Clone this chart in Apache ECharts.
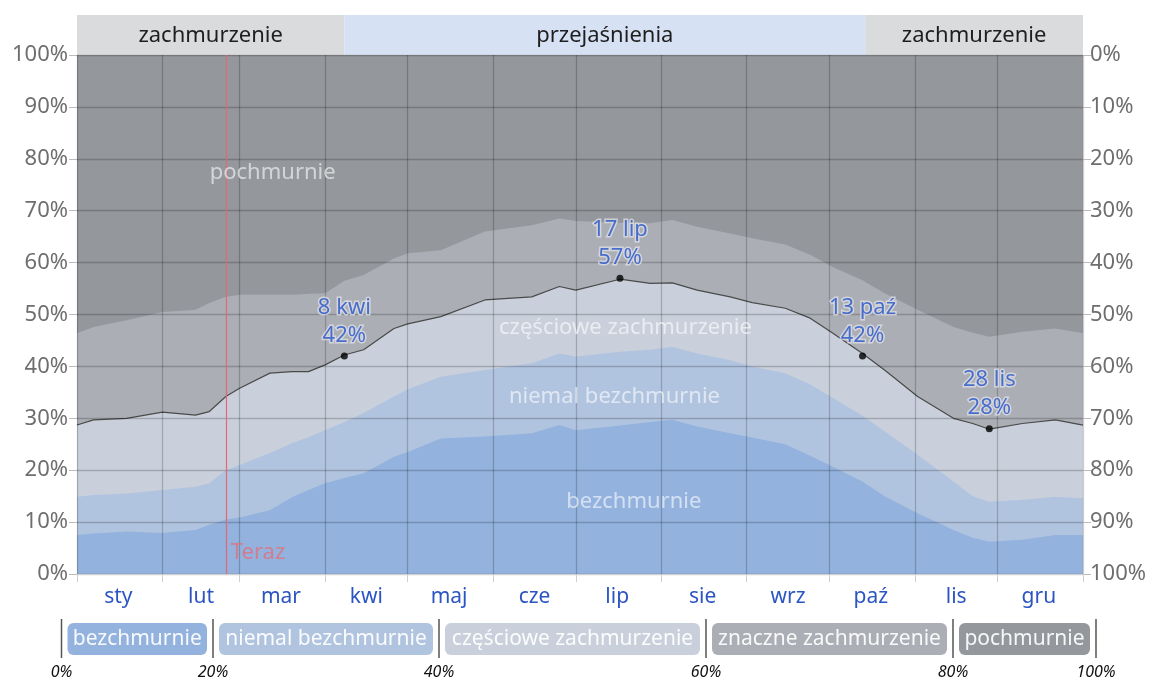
<!DOCTYPE html>
<html>
<head>
<meta charset="utf-8">
<script src="https://cdn.jsdelivr.net/npm/echarts@6/dist/echarts.min.js"></script>
<style>
  html, body { margin: 0; padding: 0; background: #fff; }
  #main { width: 1152px; height: 679px; }
</style>
</head>
<body>
<div id="main"></div>
<script>
// dni roku (0 = 1 sty), w których odczytano granice kategorii
const days = [0, 6, 18, 31, 43, 48, 54, 59, 70, 78, 84, 90, 97, 104, 115, 120, 132, 148, 165, 175, 181, 197, 208, 216, 225, 237, 245, 257, 266, 274, 285, 293, 305, 318, 325, 331, 343, 355, 365];

// skumulowane granice (%) - od dołu
const bezchmurnie = [7.5, 7.8, 8.2, 7.9, 8.5, 9.5, 10.5, 10.9, 12.3, 14.8, 16.2, 17.5, 18.5, 19.4, 22.6, 23.5, 26.1, 26.5, 27.1, 28.7, 27.7, 28.6, 29.3, 29.7, 28.4, 27.1, 26.3, 25.0, 22.8, 20.7, 17.8, 15.0, 11.7, 8.5, 7.0, 6.2, 6.6, 7.5, 7.5];
const niemalBezchmurnie = [14.9, 15.2, 15.5, 16.2, 16.8, 17.5, 20.0, 21.0, 23.3, 25.2, 26.4, 27.7, 29.3, 31.0, 34.2, 35.6, 38.0, 39.3, 40.6, 42.5, 41.9, 42.8, 43.2, 43.8, 42.5, 41.2, 40.0, 38.7, 36.5, 34.0, 30.5, 27.5, 23.0, 17.8, 15.0, 13.9, 14.3, 14.9, 14.6];
const czescioweZachmurzenie = [28.7, 29.7, 30.0, 31.2, 30.6, 31.3, 34.2, 35.8, 38.7, 39.0, 39.0, 40.3, 42.2, 43.2, 47.3, 48.2, 49.6, 52.8, 53.4, 55.4, 54.7, 56.8, 56.0, 56.1, 54.7, 53.4, 52.3, 51.2, 49.3, 46.5, 42.5, 39.3, 34.2, 30.0, 29.0, 27.9, 29.0, 29.7, 28.7];
const znaczneZachmurzenie = [46.4, 47.6, 48.9, 50.5, 50.9, 52.2, 53.4, 53.8, 53.8, 53.8, 54.0, 54.1, 56.5, 57.6, 60.8, 61.8, 62.4, 66.0, 67.2, 68.5, 68.0, 67.7, 67.6, 68.2, 66.9, 65.6, 64.7, 63.5, 61.5, 59.2, 56.6, 54.1, 50.9, 47.6, 46.5, 45.7, 46.7, 47.3, 46.4];
const pochmurnie = days.map(() => 100);

const monthNames = ['sty', 'lut', 'mar', 'kwi', 'maj', 'cze', 'lip', 'sie', 'wrz', 'paź', 'lis', 'gru'];
const monthStarts = [0, 31, 59, 90, 120, 151, 181, 212, 243, 273, 304, 334, 365];

// wyróżnione punkty
const markDays = [97, 197, 285, 331];
const markVals = [42, 57, 42, 28];
const markNames = ['8 kwi', '17 lip', '13 paź', '28 lis'];

const nowDay = 54;

const seasonNames = ['zachmurzenie', 'przejaśnienia', 'zachmurzenie'];
const seasonStart = [0, 97, 286];
const seasonEnd = [97, 286, 365];

const legendNames = ['bezchmurnie', 'niemal bezchmurnie', 'częściowe zachmurzenie', 'znaczne zachmurzenie', 'pochmurnie'];
const legendTicks = ['0%', '20%', '40%', '60%', '80%', '100%'];

const colors = {
    bez: '#93b2de',
    niemal: '#b1c4df',
    czesc: '#c9d0db',
    znaczne: '#abaeb4',
    poch: '#94979c',
};

const FONT = 'Noto Sans';
const dayCats = Array.from({length: 366}, (_, i) => String(i));
const monthMid = monthStarts.slice(0, 12).map((s, i) => s + Math.floor((monthStarts[i + 1] - s) / 2));

const pairs = vals => days.map((d, i) => [d, vals[i]]);

function areaSeries(name, vals, color, line) {
    return {
        name: name,
        type: 'line',
        xAxisIndex: 0,
        yAxisIndex: 0,
        data: pairs(vals),
        symbol: 'none',
        smooth: false,
        z: 2,
        lineStyle: line ? { color: '#4a4a4a', width: 1.2 } : { width: 0 },
        areaStyle: { color: color, opacity: 1 },
        silent: true,
    };
}

const chart = echarts.init(document.getElementById('main'));

// legenda na dole (opis kategorii)
const sepX = [61.5, 213, 439, 706, 953, 1096];
const legendColors = [colors.bez, colors.niemal, colors.czesc, colors.znaczne, colors.poch];
const graphics = [];
sepX.forEach((x, i) => {
    graphics.push({
        type: 'line',
        shape: { x1: x, y1: 619, x2: x, y2: 658 },
        style: { stroke: '#555', lineWidth: 1.5 },
    });
    graphics.push({
        type: 'text',
        x: x,
        y: 672,
        style: {
            text: legendTicks[i],
            fill: '#111',
            font: 'italic 16px ' + FONT,
            align: 'center',
            verticalAlign: 'middle',
        },
    });
});
legendNames.forEach((name, i) => {
    const x0 = sepX[i] + 6, x1 = sepX[i + 1] - 6;
    graphics.push({
        type: 'rect',
        shape: { x: x0, y: 623, width: x1 - x0, height: 32, r: 6 },
        style: { fill: legendColors[i] },
    });
    graphics.push({
        type: 'text',
        x: (x0 + x1) / 2,
        y: 639,
        style: {
            text: name,
            fill: 'rgba(255,255,255,0.92)',
            font: '21px ' + FONT,
            align: 'center',
            verticalAlign: 'middle',
        },
    });
});

const option = {
    animation: false,
    backgroundColor: '#fff',
    textStyle: { fontFamily: FONT },
    grid: [
        { left: 77, right: 69, top: 55, bottom: 105 },
        { left: 77, right: 69, top: 15, height: 40 },
    ],
    xAxis: [
        {
            type: 'category',
            gridIndex: 0,
            data: dayCats,
            boundaryGap: false,
            z: 3,
            axisLine: { show: true, lineStyle: { color: '#d0d0d0', type: 'dotted' } },
            axisTick: {
                show: true,
                length: 8,
                interval: idx => monthStarts.includes(idx),
                lineStyle: { color: '#cfcfcf' },
            },
            axisLabel: {
                show: true,
                interval: idx => monthMid.includes(idx),
                formatter: (v, idx) => monthNames[monthMid.indexOf(Number(v))],
                color: '#2c55c4',
                fontSize: 21,
                margin: 13,
            },
            splitLine: {
                show: true,
                interval: idx => monthStarts.includes(idx),
                lineStyle: { color: 'rgba(0,0,0,0.2)', width: 1.3 },
            },
        },
        {
            type: 'value',
            gridIndex: 1,
            min: 0,
            max: 365,
            show: false,
        },
    ],
    yAxis: [
        {
            type: 'value',
            gridIndex: 0,
            min: 0,
            max: 100,
            interval: 10,
            z: 3,
            axisLine: { show: false },
            axisTick: { show: true, length: 8, lineStyle: { color: '#bbb' } },
            axisLabel: { formatter: '{value}%', color: '#6e6e6e', fontSize: 22, margin: 9 },
            splitLine: { show: true, lineStyle: { color: 'rgba(0,0,0,0.2)', width: 1.3 } },
        },
        {
            type: 'value',
            gridIndex: 0,
            position: 'right',
            inverse: true,
            min: 0,
            max: 100,
            interval: 10,
            z: 3,
            axisLine: { show: false },
            axisTick: { show: true, length: 8, lineStyle: { color: '#bbb' } },
            axisLabel: { formatter: '{value}%', color: '#6e6e6e', fontSize: 22, margin: 7 },
            splitLine: { show: false },
        },
        {
            type: 'value',
            gridIndex: 1,
            min: 0,
            max: 1,
            show: false,
        },
    ],
    series: [
        areaSeries('pochmurnie', pochmurnie, colors.poch, false),
        areaSeries('znaczne zachmurzenie', znaczneZachmurzenie, colors.znaczne, false),
        areaSeries('częściowe zachmurzenie', czescioweZachmurzenie, colors.czesc, true),
        areaSeries('niemal bezchmurnie', niemalBezchmurnie, colors.niemal, false),
        areaSeries('bezchmurnie', bezchmurnie, colors.bez, false),
        {
            // opisy obszarów
            type: 'scatter',
            xAxisIndex: 0,
            yAxisIndex: 0,
            symbolSize: 0,
            z: 5,
            silent: true,
            data: [
                { name: 'pochmurnie', value: [71, 77.3] },
                { name: 'częściowe zachmurzenie', value: [199, 47.4] },
                { name: 'niemal bezchmurnie', value: [195, 34.1] },
                { name: 'bezchmurnie', value: [202, 13.9] },
            ],
            label: {
                show: true,
                position: 'inside',
                formatter: p => p.name,
                color: 'rgba(255,255,255,0.75)',
                fontSize: 22,
            },
        },
        {
            // teraz
            type: 'scatter',
            xAxisIndex: 0,
            yAxisIndex: 0,
            symbolSize: 0,
            z: 5,
            silent: true,
            data: [[nowDay, 0]],
            label: {
                show: true,
                position: 'right',
                distance: 5,
                offset: [0, -21],
                formatter: 'Teraz',
                color: '#e0707c',
                fontSize: 22,
            },
            markLine: {
                silent: true,
                symbol: 'none',
                label: { show: false },
                lineStyle: { color: '#e46872', width: 1.2, type: 'solid' },
                data: [{ xAxis: nowDay }],
            },
        },
        {
            // wyróżnione daty
            type: 'scatter',
            xAxisIndex: 0,
            yAxisIndex: 0,
            symbolSize: 7,
            z: 6,
            silent: true,
            itemStyle: { color: '#000' },
            data: markDays.map((d, i) => ({ name: markNames[i], value: [d, markVals[i]] })),
            label: {
                show: true,
                position: 'top',
                distance: 3,
                formatter: p => p.name + '\n' + p.value[1] + '%',
                color: '#2553c6',
                fontSize: 22,
                lineHeight: 28,
                textBorderColor: 'rgba(230,232,238,0.85)',
                textBorderWidth: 3,
            },
        },
        {
            // pasek pór: zachmurzenie / przejaśnienia
            type: 'custom',
            xAxisIndex: 1,
            yAxisIndex: 2,
            silent: true,
            data: seasonNames.map((n, i) => [seasonStart[i], seasonEnd[i], i]),
            renderItem: function (params, api) {
                const p0 = api.coord([api.value(0), 1]);
                const p1 = api.coord([api.value(1), 0]);
                const name = seasonNames[api.value(2)];
                return {
                    type: 'group',
                    children: [
                        {
                            type: 'rect',
                            shape: { x: p0[0], y: p0[1], width: p1[0] - p0[0], height: p1[1] - p0[1] },
                            style: { fill: name === 'przejaśnienia' ? '#d6e2f3' : '#dadbdd' },
                        },
                        {
                            type: 'text',
                            x: (p0[0] + p1[0]) / 2,
                            y: (p0[1] + p1[1]) / 2 + 1,
                            style: {
                                text: name,
                                fill: '#1e1e1e',
                                font: '22px ' + FONT,
                                align: 'center',
                                verticalAlign: 'middle',
                            },
                        },
                    ],
                };
            },
        },
    ],
    graphic: graphics,
};

chart.setOption(option);
</script>
</body>
</html>
